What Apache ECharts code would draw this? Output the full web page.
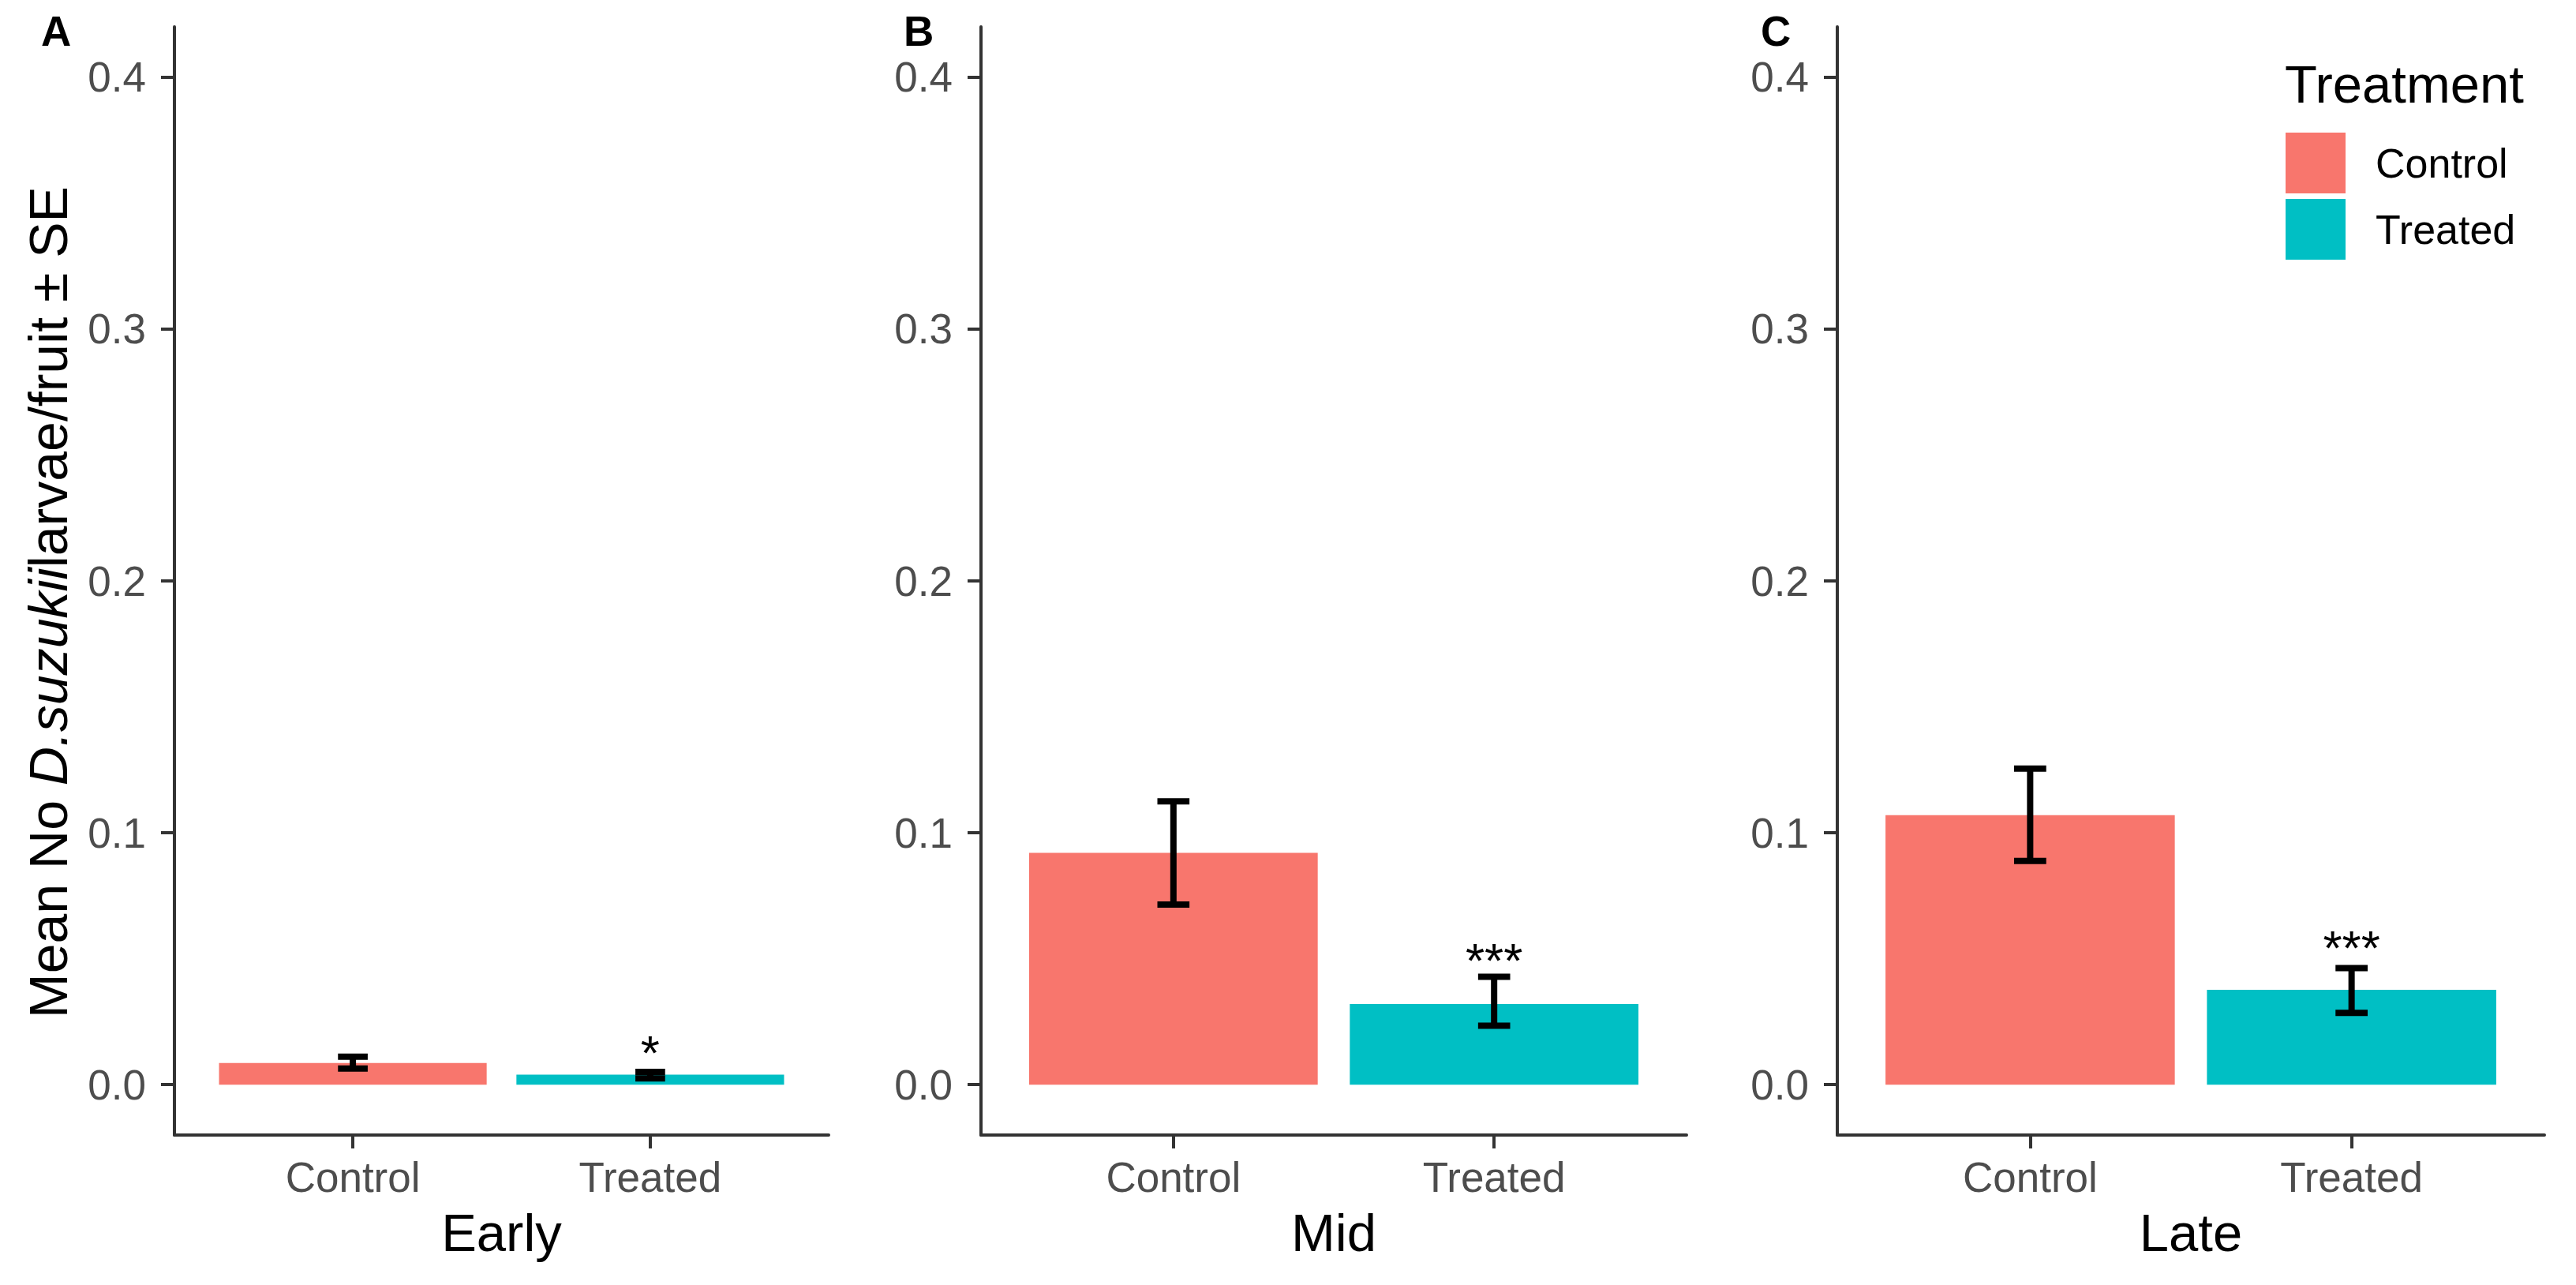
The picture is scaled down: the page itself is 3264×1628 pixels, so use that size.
<!DOCTYPE html>
<html>
<head>
<meta charset="utf-8">
<script src="https://cdn.jsdelivr.net/npm/echarts@6/dist/echarts.min.js"></script>
<style>
html,body{margin:0;padding:0;background:#fff;}
#chart{width:3264px;height:1628px;}
</style>
</head>
<body>
<div id="chart"></div>
<script>
// ---- data ----
const periods = ['Early', 'Mid', 'Late'];
const treatments = ['Control', 'Treated'];
const panelLetters = ['A', 'B', 'C'];
const controlMean = [0.0086, 0.092, 0.107];
const controlLow  = [0.0064, 0.0715, 0.0888];
const controlHigh = [0.0111, 0.1125, 0.1255];
const treatedMean = [0.0040, 0.032, 0.0377];
const treatedLow  = [0.0025, 0.0234, 0.0285];
const treatedHigh = [0.0051, 0.0428, 0.0463];
const sigLabels = ['*', '***', '***'];
const sigY = [0.0176, 0.054, 0.059];
const yTicks = [0, 0.1, 0.2, 0.3, 0.4];
const colors = {Control: '#F8766D', Treated: '#00BFC4'};

// ---- layout ----
const FONT = '"Liberation Sans", Arial, sans-serif';
const grids = [
  {left: 221, width: 829},
  {left: 1243, width: 894},
  {left: 2328, width: 896}
];
const letterX = [52, 1145, 2231];
const AXIS_COLOR = '#333333';

const option = {
  backgroundColor: '#ffffff',
  animation: false,
  textStyle: {fontFamily: FONT},
  title: [
    {text: 'Treatment', left: 2895, top: 73, padding: 0,
     textStyle: {fontSize: 67, fontWeight: 'normal', color: '#000', fontFamily: FONT}}
  ].concat(panelLetters.map((l, i) => ({
    text: l, left: letterX[i], top: 18, padding: 0,
    textStyle: {fontSize: 53, lineHeight: 42, fontWeight: 'bold', color: '#000', fontFamily: FONT}
  }))),
  legend: {
    orient: 'vertical', left: 2896, top: 168, padding: 0,
    itemWidth: 76, itemHeight: 77, itemGap: 7, icon: 'rect',
    data: treatments,
    textStyle: {fontSize: 52, color: '#000', fontFamily: FONT, padding: [6, 0, 0, 33]},
    selectedMode: false
  },
  grid: grids.map(g => ({left: g.left, width: g.width, top: 34, bottom: 190, outerBoundsMode: 'none', containLabel: false})),
  xAxis: periods.map((p, i) => ({
    gridIndex: i, type: 'value', min: 0.4, max: 2.6,
    splitLine: {show: false},
    axisLine: {show: true, onZero: false, lineStyle: {color: AXIS_COLOR, width: 4}},
    axisTick: {show: true, length: 17, customValues: [1, 2], lineStyle: {color: AXIS_COLOR, width: 4}},
    axisLabel: {show: true, customValues: [1, 2], formatter: v => treatments[Math.round(v) - 1],
      margin: 27, fontSize: 53, color: '#4D4D4D', fontFamily: FONT},
    name: p, nameLocation: 'middle', nameGap: 90, nameMoveOverlap: false,
    nameTextStyle: {fontSize: 67, color: '#000', fontFamily: FONT}
  })),
  yAxis: periods.map((p, i) => {
    const ax = {
      gridIndex: i, type: 'value', min: -0.02, max: 0.42,
      splitLine: {show: false},
      axisLine: {show: true, onZero: false, lineStyle: {color: AXIS_COLOR, width: 4}},
      axisTick: {show: true, length: 17, customValues: yTicks, lineStyle: {color: AXIS_COLOR, width: 4}},
      axisLabel: {show: true, customValues: yTicks, formatter: v => Number(v).toFixed(1),
        margin: 36, fontSize: 53, lineHeight: 42, color: '#4D4D4D', fontFamily: FONT}
    };
    if (i === 0) {
      ax.name = '{n|Mean No }{i|D.suzukii}{n|larvae/fruit ± SE}';
      ax.nameLocation = 'middle';
      ax.nameRotate = 90;
      ax.nameGap = 126;
      ax.nameMoveOverlap = false;
      ax.nameTextStyle = {
        fontFamily: FONT, color: '#000', padding: [0, 54, 0, 0],
        rich: {
          n: {fontSize: 68, color: '#000', fontFamily: FONT},
          i: {fontSize: 68, color: '#000', fontStyle: 'italic', fontFamily: FONT}
        }
      };
    }
    return ax;
  }),
  series: []
};

function barRender(params, api) {
  const x = api.value(0), v = api.value(1);
  const p1 = api.coord([x - 0.45, v]);
  const p2 = api.coord([x + 0.45, 0]);
  return {
    type: 'rect',
    shape: {x: p1[0], y: p1[1], width: p2[0] - p1[0], height: p2[1] - p1[1]},
    style: {fill: api.visual('color')}
  };
}
function errRender(params, api) {
  const x = api.value(0), lo = api.value(1), hi = api.value(2);
  const top = api.coord([x, hi]);
  const bot = api.coord([x, lo]);
  const l = api.coord([x - 0.05, hi])[0];
  const r = api.coord([x + 0.05, hi])[0];
  const st = {stroke: '#000', lineWidth: 8, lineCap: 'butt'};
  return {type: 'group', children: [
    {type: 'line', shape: {x1: top[0], y1: top[1], x2: bot[0], y2: bot[1]}, style: st},
    {type: 'line', shape: {x1: l, y1: top[1], x2: r, y2: top[1]}, style: st},
    {type: 'line', shape: {x1: l, y1: bot[1], x2: r, y2: bot[1]}, style: st}
  ]};
}

periods.forEach((p, i) => {
  option.series.push({
    type: 'custom', name: 'Control', xAxisIndex: i, yAxisIndex: i,
    itemStyle: {color: colors.Control},
    renderItem: barRender, data: [[1, controlMean[i]]], encode: {x: 0, y: 1}, z: 2
  });
  option.series.push({
    type: 'custom', name: 'Treated', xAxisIndex: i, yAxisIndex: i,
    itemStyle: {color: colors.Treated},
    renderItem: barRender, data: [[2, treatedMean[i]]], encode: {x: 0, y: 1}, z: 2
  });
  option.series.push({
    type: 'custom', name: 'SE ' + p, xAxisIndex: i, yAxisIndex: i,
    itemStyle: {color: '#000'},
    renderItem: errRender,
    data: [[1, controlLow[i], controlHigh[i]], [2, treatedLow[i], treatedHigh[i]]],
    encode: {x: 0, y: [1, 2]}, z: 3
  });
  const lbl = sigLabels[i];
  option.series.push({
    type: 'custom', name: 'sig ' + p, xAxisIndex: i, yAxisIndex: i,
    itemStyle: {color: '#000'},
    renderItem: function (params, api) {
      const pt = api.coord([api.value(0), api.value(1)]);
      return {type: 'text', x: pt[0], y: pt[1] + 15,
        style: {text: lbl, fill: '#000', fontSize: 62, fontFamily: FONT, align: 'center', verticalAlign: 'middle'}};
    },
    data: [[2, sigY[i]]], encode: {x: 0, y: 1}, z: 4
  });
});

const chart = echarts.init(document.getElementById('chart'), null, {renderer: 'svg', width: 3264, height: 1628});
chart.setOption(option);
</script>
</body>
</html>
